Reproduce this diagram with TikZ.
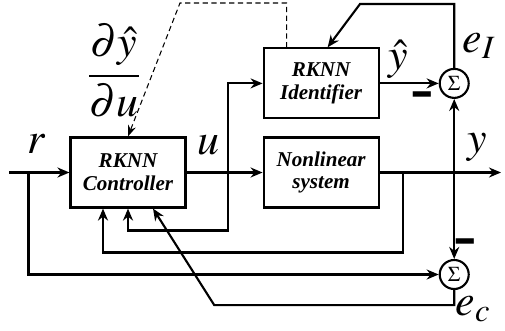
\documentclass[tikz,border=0pt]{standalone}
\usepackage{amsmath}
\usepackage{mathptmx}
\usepackage{fontspec}
\setmainfont{Liberation Serif}
\usetikzlibrary{positioning,arrows.meta,calc}
\tikzset{
  box/.style ={draw, line width=1.2pt, minimum height=1.4cm, minimum width=2.3cm,
               align=center, font=\fontsize{12}{13}\selectfont\bfseries\itshape},
  sum/.style ={circle, draw, line width=1.2pt, inner sep=0pt, minimum size=5.8mm,
               font=\large},
  fl/.style  ={-{Stealth[length=2.4mm,width=2mm]}, line width=1.2pt},
  dfl/.style ={-{Stealth[length=2.2mm,width=1.6mm]}, densely dashed, line width=0.6pt},
  lbl/.style ={font=\fontsize{25}{29}\selectfont, inner sep=0pt},
  neg/.style ={font=\fontsize{20}{20}\selectfont\bfseries, inner sep=0pt}
}

\begin{document}
\begin{tikzpicture}
  \useasboundingbox (0,0) rectangle (10.1,6.6);
  \node[box] (ctrl) at (2.56,3.15) {RKNN\\Controller};
  \node[box, right=1.52cm of ctrl] (plant) {Nonlinear\\system};
  \node[box, above=0.34cm of plant] (ident) {RKNN\\Identifier};
  \node[sum, right=1.18cm of ident] (sumI) {$\Sigma$};
  \node[sum, below=3.2cm of sumI] (sumC) {$\Sigma$};

  % junctions
  \coordinate (in) at ([xshift=-12mm]ctrl.west);
  \coordinate (rj) at ([xshift=-8.2mm]ctrl.west);
  \coordinate (uj) at ([xshift=8.2mm]ctrl.east);
  \coordinate (yj) at ([xshift=4.6mm]plant.east);
  \coordinate (yc) at (sumI.south |- plant.east);
  \coordinate (out) at (10.02,0 |- plant.east);

  % forward path
  \draw[fl](in)--(ctrl.west);
  \draw[fl](ctrl.east)--(plant.west);
  \draw[fl](uj) |- (ident.west);
  \draw[fl](plant.east)--(out);
  \draw[fl](ident.east)--(sumI.west);
  \draw[fl](yc)--(sumI.south);
  \draw[fl](yc)--(sumC.north);
  \draw[fl](rj) |- (sumC.west);

  % feedback to controller
  \draw[fl](uj) -- ++(0,-1.16) -| (ctrl.south);
  \draw[fl](yj) -- ++(0,-1.6) -| ([xshift=-5mm]ctrl.south);
  \draw[fl](sumC.south) -- ++(0,-0.3) -| ++(-4.8,0) -- ([xshift=5mm]ctrl.south);
  \draw[fl](sumI.north) |- (7.2,6.52) -- ([xshift=1.3mm]ident.north);
  \draw[dfl]([xshift=-6.9mm]ident.north) |- (3.6,6.54) -- (ctrl.north);

  % labels
  \node[lbl] (rlab) at (0.74,3.72) {$r$};
  \node[lbl] (ulab) at (4.16,3.7) {$u$};
  \node[lbl] (ylab) at (9.54,3.66) {$y$};
  \node[lbl] (yhlab) at (7.96,5.42) {$\hat{y}$};
  \node[lbl] (eIlab) at (9.58,5.68) {$e_I$};
  \node[lbl] (eclab) at (9.46,0.42) {$e_c$};
  \node[lbl] (dlab) at (2.28,5.18) {$\dfrac{\partial\hat{y}}{\partial u}$};
  \node[neg] (m1) at (8.44,4.36) {\smash{\scalebox{1}[2.2]{--}}};
  \node[neg] (m2) at (9.3,1.42) {\smash{\scalebox{1}[2.2]{--}}};
\end{tikzpicture}
\end{document}
